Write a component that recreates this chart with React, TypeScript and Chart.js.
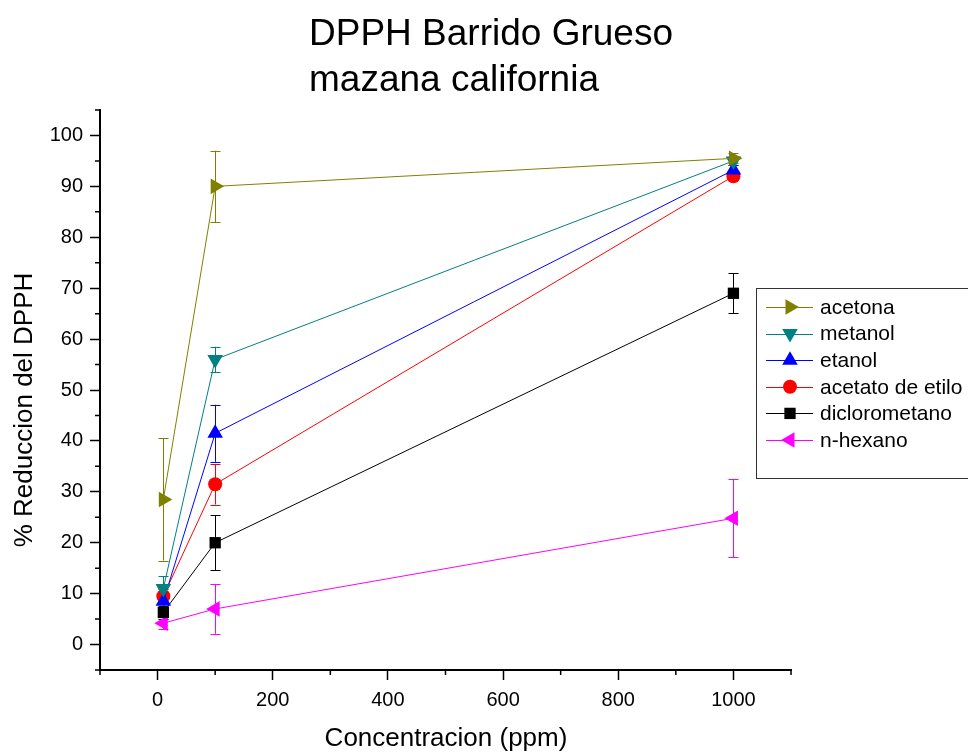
import React, { useEffect, useRef } from "react";
import { Chart, registerables } from "chart.js";

Chart.register(...registerables);

const concentrations = [10, 100, 1000];
const seriesNames = ["acetona", "metanol", "etanol", "acetato de etilo", "diclorometano", "n-hexano"];
const acetona = [28.5, 90, 95.5];
const acetonaErr = [12, 7, 1];
const metanol = [11, 56, 95];
const metanolErr = [2.4, 2.5, 0.8];
const etanol = [8.5, 41.5, 93.2];
const etanolErr = [1.5, 5.6, 1];
const acetato = [9.5, 31.5, 92];
const acetatoErr = [1.5, 4, 0.8];
const dicloro = [6.3, 20, 69];
const diclaroErr = [1.2, 5.4, 3.9];
const hexano = [4.2, 7, 24.8];
const hexanoErr = [1.2, 4.9, 7.7];
const xMajorTicks = [0, 200, 400, 600, 800, 1000];
const xMinorTicks = [-100, 100, 300, 500, 700, 900, 1100];
const yMajorTicks = [0, 10, 20, 30, 40, 50, 60, 70, 80, 90, 100];
const yMinorTicks = [-5, 5, 15, 25, 35, 45, 55, 65, 75, 85, 95, 105];

const colors = ["#808000", "#008080", "#0000ff", "#ff0000", "#000000", "#ff00ff"];
const styles = [
  { style: "triangle", rot: 90, r: 9 },
  { style: "triangle", rot: 180, r: 9 },
  { style: "triangle", rot: 0, r: 9 },
  { style: "circle", rot: 0, r: 7 },
  { style: "rect", rot: 0, r: 8 },
  { style: "triangle", rot: 270, r: 9 },
];
const values = [acetona, metanol, etanol, acetato, dicloro, hexano];
const errors = [acetonaErr, metanolErr, etanolErr, acetatoErr, diclaroErr, hexanoErr];

const FONT = "'Liberation Sans', Arial, sans-serif";

function drawMarker(ctx: CanvasRenderingContext2D, x: number, y: number, idx: number) {
  const s = styles[idx];
  ctx.save();
  ctx.fillStyle = colors[idx];
  ctx.beginPath();
  if (s.style === "circle") {
    ctx.arc(x, y, s.r, 0, Math.PI * 2);
  } else if (s.style === "rect") {
    const h = s.r * Math.SQRT1_2;
    ctx.rect(x - h, y - h, 2 * h, 2 * h);
  } else {
    let rad = (s.rot * Math.PI) / 180;
    for (let k = 0; k < 3; k++) {
      const px = x + Math.sin(rad) * s.r;
      const py = y - Math.cos(rad) * s.r;
      if (k === 0) ctx.moveTo(px, py);
      else ctx.lineTo(px, py);
      rad += (2 * Math.PI) / 3;
    }
    ctx.closePath();
  }
  ctx.fill();
  ctx.restore();
}

const decorPlugin = {
  id: "decor",
  beforeDatasetsDraw(chart: any) {
    const ctx = chart.ctx as CanvasRenderingContext2D;
    const xs = chart.scales.x;
    const ys = chart.scales.y;
    ctx.save();
    ctx.lineWidth = 1;
    values.forEach((vals, i) => {
      ctx.strokeStyle = colors[i];
      vals.forEach((v, j) => {
        const e = errors[i][j];
        const px = Math.round(xs.getPixelForValue(concentrations[j])) + 0.5;
        const top = ys.getPixelForValue(v + e);
        const bot = ys.getPixelForValue(v - e);
        ctx.beginPath();
        ctx.moveTo(px, top);
        ctx.lineTo(px, bot);
        ctx.moveTo(px - 5, Math.round(top) + 0.5);
        ctx.lineTo(px + 5, Math.round(top) + 0.5);
        ctx.moveTo(px - 5, Math.round(bot) + 0.5);
        ctx.lineTo(px + 5, Math.round(bot) + 0.5);
        ctx.stroke();
      });
    });
    ctx.restore();
  },
  afterDraw(chart: any) {
    const ctx = chart.ctx as CanvasRenderingContext2D;
    const xs = chart.scales.x;
    const ys = chart.scales.y;
    const area = chart.chartArea;
    ctx.save();
    // minor ticks
    ctx.strokeStyle = "#000";
    ctx.lineWidth = 1.5;
    ctx.beginPath();
    xMinorTicks.forEach((v) => {
      const px = xs.getPixelForValue(v);
      ctx.moveTo(px, area.bottom);
      ctx.lineTo(px, area.bottom + 5);
    });
    yMinorTicks.forEach((v) => {
      const py = ys.getPixelForValue(v);
      ctx.moveTo(area.left, py);
      ctx.lineTo(area.left - 5, py);
    });
    ctx.stroke();

    // title
    ctx.fillStyle = "#000";
    ctx.font = `37px ${FONT}`;
    ctx.textAlign = "left";
    ctx.textBaseline = "alphabetic";
    ctx.fillText("DPPH Barrido Grueso", 309, 45);
    ctx.fillText("mazana california", 309, 91);

    // axis titles
    ctx.font = `26px ${FONT}`;
    ctx.textAlign = "center";
    ctx.textBaseline = "alphabetic";
    ctx.fillText("Concentracion (ppm)", 446, 746);
    ctx.save();
    ctx.translate(32, 410);
    ctx.rotate(-Math.PI / 2);
    ctx.fillText("% Reduccion del DPPH", 0, 0);
    ctx.restore();

    // legend
    ctx.strokeStyle = "#333";
    ctx.lineWidth = 1;
    ctx.strokeRect(756.5, 288.5, 230, 190);
    ctx.font = `21px ${FONT}`;
    ctx.textAlign = "left";
    ctx.textBaseline = "middle";
    seriesNames.forEach((name, i) => {
      const yy = 307 + i * 26.6;
      ctx.strokeStyle = colors[i];
      ctx.beginPath();
      ctx.moveTo(766, Math.round(yy) + 0.5);
      ctx.lineTo(813, Math.round(yy) + 0.5);
      ctx.stroke();
      drawMarker(ctx, 790, yy, i);
      ctx.fillStyle = "#000";
      ctx.fillText(name, 820, yy + 1);
    });
    ctx.restore();
  },
};

export default function App() {
  const ref = useRef<HTMLCanvasElement | null>(null);
  useEffect(() => {
    if (!ref.current) return;
    const datasets = values.map((vals, i) => ({
      label: seriesNames[i],
      data: vals.map((v, j) => ({ x: concentrations[j], y: v })),
      borderColor: colors[i],
      backgroundColor: colors[i],
      borderWidth: 1,
      pointStyle: styles[i].style,
      pointRotation: styles[i].rot,
      pointRadius: styles[i].r,
      pointBorderWidth: 0,
      pointBackgroundColor: colors[i],
      tension: 0,
      fill: false,
    }));
    const chart = new Chart(ref.current, {
      type: "line",
      data: { datasets: datasets as any },
      options: {
        animation: false,
        responsive: false,
        layout: { padding: { top: 110, right: 177, left: 0, bottom: 0 } },
        plugins: { legend: { display: false }, title: { display: false }, tooltip: { enabled: false } },
        scales: {
          x: {
            type: "linear",
            min: -100,
            max: 1100,
            afterBuildTicks: (s: any) => {
              s.ticks = xMajorTicks.map((v) => ({ value: v }));
            },
            afterFit: (s: any) => {
              s.height = 82;
            },
            grid: { display: true, drawOnChartArea: false, drawTicks: true, tickLength: 10, tickColor: "#000", tickWidth: 1.5 },
            border: { display: true, color: "#000", width: 2 },
            ticks: {
              color: "#000",
              font: { family: FONT, size: 20 },
              padding: 8,
              maxRotation: 0,
              callback: (v: any) => String(v),
            },
          },
          y: {
            type: "linear",
            min: -5,
            max: 105,
            afterBuildTicks: (s: any) => {
              s.ticks = yMajorTicks.map((v) => ({ value: v }));
            },
            afterFit: (s: any) => {
              s.width = 100;
            },
            grid: { display: true, drawOnChartArea: false, drawTicks: true, tickLength: 10, tickColor: "#000", tickWidth: 1.5 },
            border: { display: true, color: "#000", width: 2 },
            ticks: { color: "#000", font: { family: FONT, size: 20 }, padding: 7, callback: (v: any) => String(v) },
          },
        },
      },
      plugins: [decorPlugin],
    });
    return () => chart.destroy();
  }, []);
  return (
    <div style={{ position: "fixed", left: 0, top: 0, width: 968, height: 752, background: "#fff" }}>
      <canvas ref={ref} width={968} height={752} style={{ display: "block" }} />
    </div>
  );
}
